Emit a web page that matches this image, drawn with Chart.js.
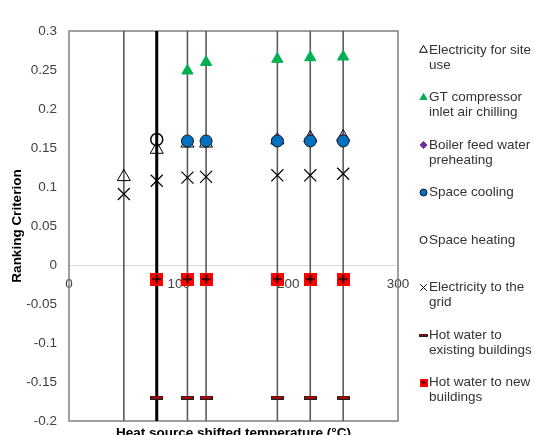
<!DOCTYPE html>
<html>
<head>
<meta charset="utf-8">
<script src="https://cdn.jsdelivr.net/npm/chart.js"></script>
<style>
  html, body { margin: 0; padding: 0; background: #fff; }
</style>
</head>
<body>
<canvas id="rankChart" width="535" height="435"></canvas>
<script>
    // series
    const seriesNames = ['Electricity for site use', 'GT compressor inlet air chilling', 'Boiler feed water preheating',
        'Space cooling', 'Space heating', 'Electricity to the grid', 'Hot water to existing buildings', 'Hot water to new buildings'];

    const siteElecX = [50, 80, 108, 125, 190, 220, 250];
    const siteElecY = [0.113, 0.148, 0.156, 0.156, 0.160, 0.163, 0.164];
    const gtChillX = [108, 125, 190, 220, 250];
    const gtChillY = [0.249, 0.260, 0.264, 0.266, 0.267];
    const boilerX = [190, 220, 250];
    const boilerY = [0.161, 0.161, 0.161];
    const coolingX = [108, 125, 190, 220, 250];
    const coolingY = [0.159, 0.159, 0.159, 0.159, 0.159];
    const heatingX = [80];
    const heatingY = [0.161];
    const gridElecX = [50, 80, 108, 125, 190, 220, 250];
    const gridElecY = [0.091, 0.108, 0.112, 0.113, 0.115, 0.115, 0.117];
    const hwExistX = [80, 108, 125, 190, 220, 250];
    const hwExistY = [-0.17, -0.17, -0.17, -0.17, -0.17, -0.17];
    const hwNewX = [80, 108, 125, 190, 220, 250];
    const hwNewY = [-0.018, -0.018, -0.018, -0.018, -0.018, -0.018];

    // full-height drop lines
    const dropLineX = [50, 108, 125, 190, 220, 250];
    const boldLineX = [80];

    const xMin = 0, xMax = 300, xStep = 100;
    const yMin = -0.2, yMax = 0.3, yStep = 0.05;

    const FONT = '"Liberation Sans", Arial, sans-serif';
    Chart.defaults.font.family = FONT;
    Chart.defaults.color = '#404040';

    function pts(xs, ys) {
        return xs.map((x, i) => ({x: x, y: ys[i]}));
    }
    function vLines(xs) {
        const out = [];
        xs.forEach(x => {
            out.push({x: x, y: yMin}, {x: x, y: yMax}, {x: x, y: null});
        });
        return out;
    }

    // little canvases for the two hot water markers
    function hotNewImg(s) {
        const c = document.createElement('canvas');
        c.width = s; c.height = s;
        const g = c.getContext('2d');
        g.fillStyle = '#ff0000';
        g.fillRect(0, 0, s, s);
        g.strokeStyle = '#000';
        g.lineWidth = s > 10 ? 1.6 : 1;
        g.beginPath();
        g.moveTo(s / 2, 2); g.lineTo(s / 2, s - 2);
        g.moveTo(2, s / 2); g.lineTo(s - 2, s / 2);
        g.stroke();
        return c;
    }
    function hotExistImg(w, h) {
        const c = document.createElement('canvas');
        c.width = w; c.height = h;
        const g = c.getContext('2d');
        g.fillStyle = '#222';
        g.fillRect(0, 0, w, h);
        g.fillStyle = '#c00000';
        g.fillRect(1, 1, w - 2, h - 2);
        return c;
    }

    const markers = [
        {style: 'triangle', r: 7.5, fill: 'rgba(0,0,0,0)', line: '#000', bw: 1, lr: 4.5},
        {style: 'triangle', r: 6.5, fill: '#00b050', line: '#00b050', bw: 1, lr: 4},
        {style: 'rectRot', r: 6, fill: '#7030a0', line: '#7030a0', bw: 1, lr: 3.5},
        {style: 'circle', r: 6, fill: '#0070c0', line: '#1a1a1a', bw: 1, lr: 3.5},
        {style: 'circle', r: 6, fill: 'rgba(0,0,0,0)', line: '#000', bw: 1.5, lr: 3.5},
        {style: 'crossRot', r: 8.5, fill: '#000', line: '#000', bw: 1.2, lr: 4.5},
        {style: hotExistImg(13, 4), r: 7, fill: '#c00000', line: '#000', bw: 1, img: hotExistImg(9, 3)},
        {style: hotNewImg(13), r: 7, fill: '#ff0000', line: '#000', bw: 1, img: hotNewImg(8)}
    ];
    const seriesData = [
        pts(siteElecX, siteElecY), pts(gtChillX, gtChillY), pts(boilerX, boilerY), pts(coolingX, coolingY),
        pts(heatingX, heatingY), pts(gridElecX, gridElecY), pts(hwExistX, hwExistY), pts(hwNewX, hwNewY)
    ];

    const datasets = seriesNames.map((name, i) => ({
        label: name,
        data: seriesData[i],
        pointStyle: markers[i].style,
        pointRadius: markers[i].r,
        backgroundColor: markers[i].fill,
        borderColor: markers[i].line,
        borderWidth: markers[i].bw,
        order: 20 - i
    }));
    datasets.push({
        type: 'line', label: 'lines', data: vLines(dropLineX), borderColor: '#5a5a5a', borderWidth: 1.6,
        pointRadius: 0, spanGaps: false, order: 100
    });
    datasets.push({
        type: 'line', label: 'bold', data: vLines(boldLineX), borderColor: '#000', borderWidth: 3,
        pointRadius: 0, spanGaps: false, order: 99
    });

    function wrapText(ctx, text, maxW) {
        const words = text.split(' ');
        const lines = [];
        let line = '';
        words.forEach(w => {
            const test = line ? line + ' ' + w : w;
            if (line && ctx.measureText(test).width > maxW) { lines.push(line); line = w; }
            else line = test;
        });
        lines.push(line);
        return lines;
    }

    const sideLegend = {
        id: 'sideLegend',
        beforeDatasetsDraw(chart) {
            const {ctx, chartArea: a} = chart;
            ctx.save();
            ctx.strokeStyle = '#7f7f7f';
            ctx.lineWidth = 1.5;
            ctx.strokeRect(a.left, a.top, a.right - a.left, a.bottom - a.top);
            ctx.restore();
        },
        afterDraw(chart) {
            const {ctx, chartArea: a} = chart;
            ctx.save();
            ctx.font = '13.5px ' + FONT;
            ctx.textBaseline = 'middle';
            ctx.textAlign = 'left';
            const textX = 429, markX = 423.5;
            seriesNames.forEach((name, i) => {
                const y0 = 50 + i * 47.5;
                const m = markers[i];
                if (m.img) {
                    ctx.drawImage(m.img, markX - m.img.width / 2, y0 - m.img.height / 2);
                } else {
                    ctx.fillStyle = m.fill;
                    ctx.strokeStyle = m.line;
                    ctx.lineWidth = 1;
                    Chart.helpers.drawPoint(ctx, {pointStyle: m.style, radius: m.lr, borderWidth: 1, rotation: 0}, markX, y0);
                }
                ctx.fillStyle = '#333';
                wrapText(ctx, name, 113).forEach((ln, k) => {
                    ctx.fillText(ln, textX, y0 + k * 15, 106);
                });
            });
            // x title sits at the very bottom, under the plot
            ctx.font = 'bold 13.5px ' + FONT;
            ctx.fillStyle = '#000';
            ctx.textAlign = 'center';
            ctx.textBaseline = 'alphabetic';
            ctx.fillText('Heat source shifted temperature (\u00B0C)', (a.left + a.right) / 2, 437);
            ctx.restore();
        }
    };

    var ctxR = document.getElementById('rankChart').getContext('2d');
    var rankChart = new Chart(ctxR, {
        type: 'scatter',
        data: {datasets: datasets},
        options: {
            responsive: false,
            animation: false,
            events: [],
            layout: {padding: {left: 0, right: 137, top: 31, bottom: 14}},
            plugins: {legend: {display: false}, tooltip: {enabled: false}},
            scales: {
                x: {
                    type: 'linear',
                    position: {y: 0},
                    min: xMin, max: xMax,
                    ticks: {stepSize: xStep, padding: 11, font: {size: 13.5}},
                    grid: {display: false, drawTicks: false},
                    border: {display: true, color: '#d9d9d9', width: 1}
                },
                y: {
                    min: yMin, max: yMax,
                    ticks: {
                        stepSize: yStep, padding: 12, font: {size: 13.5},
                        callback: v => String(Number(v.toFixed(2)))
                    },
                    grid: {display: false, drawTicks: false},
                    border: {display: false},
                    title: {display: true, text: 'Ranking Criterion', color: '#000',
                        font: {size: 13.5, weight: 'bold'}, padding: {top: 9, bottom: 0}},
                    afterFit: s => { s.width = 69; s.paddingTop = 0; s.paddingBottom = 0; }
                }
            }
        },
        plugins: [sideLegend]
    });
</script>
</body>
</html>
